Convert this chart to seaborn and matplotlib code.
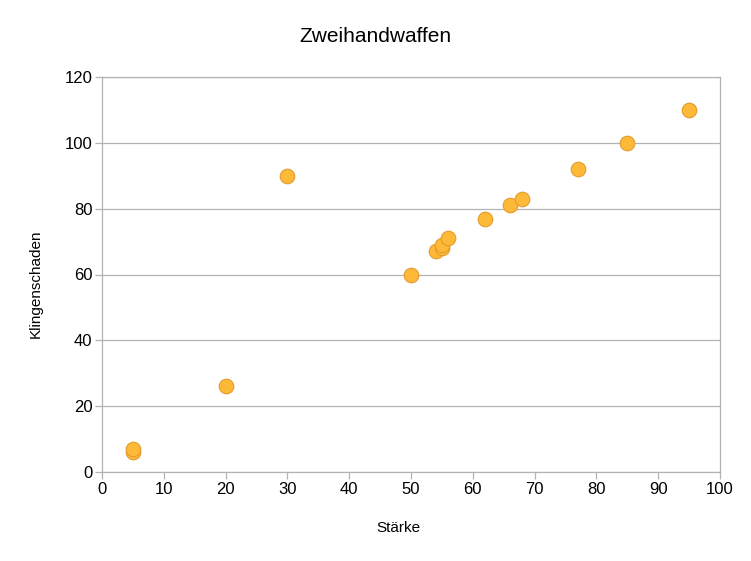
import pandas as pd
import matplotlib
matplotlib.use('Agg')
import matplotlib.pyplot as plt
import seaborn as sns

# Werte
staerke = [5, 5, 20, 30, 50, 54, 55, 55, 56, 62, 66, 68, 77, 85, 95]
klingenschaden = [6, 7, 26, 90, 60, 67, 68, 69, 71, 77, 81, 83, 92, 100, 110]
x_ticks = list(range(0, 101, 10))
y_ticks = list(range(0, 121, 20))

df = pd.DataFrame({'Stärke': staerke, 'Klingenschaden': klingenschaden})

sns.set_theme(style='white')
plt.rcParams['font.family'] = ['Liberation Sans', 'DejaVu Sans']
plt.rcParams['text.color'] = 'black'
plt.rcParams['axes.labelcolor'] = 'black'

fig = plt.figure(figsize=(7.51, 5.61), dpi=100)
ax = fig.add_axes([102 / 751, 1 - 472 / 561, 618 / 751, 395 / 561])

sns.scatterplot(data=df, x='Stärke', y='Klingenschaden', ax=ax,
                s=110, color='#FFB939', edgecolor='#E39B2A', linewidth=0.8,
                zorder=3)

ax.set_xlim(0, 100)
ax.set_ylim(0, 120)
ax.set_xticks(x_ticks)
ax.set_yticks(y_ticks)
ax.grid(axis='y', color='#b3b3b3', linewidth=0.9)
ax.set_axisbelow(True)
for s in ax.spines.values():
    s.set_color('#b3b3b3')
    s.set_linewidth(0.9)
ax.tick_params(axis='both', which='both', length=5, width=0.9, color='#b3b3b3',
               labelsize=12, labelcolor='black', pad=2, bottom=True, left=True)

ax.set_xlabel('Stärke', fontsize=11, va='center')
ax.set_ylabel('Klingenschaden', fontsize=11, va='center')
ax.xaxis.set_label_coords(0.479, -0.142)
ax.yaxis.set_label_coords(-0.108, 0.476)
fig.suptitle('Zweihandwaffen', fontsize=15, y=1 - 37 / 561, va='center')

fig.savefig('out.png', dpi=100)
